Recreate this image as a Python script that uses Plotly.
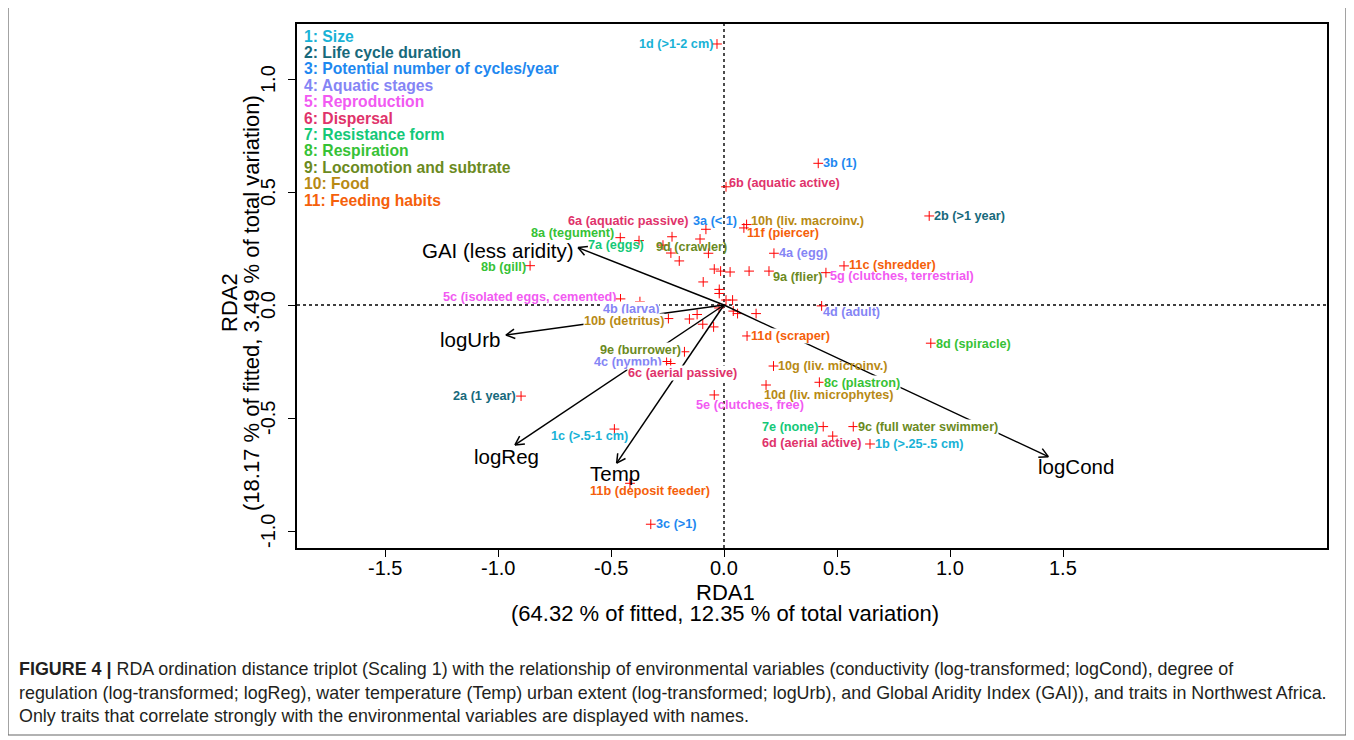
import plotly.graph_objects as go
import math

# ---------------- data ----------------
group_names = ["1: Size", "2: Life cycle duration", "3: Potential number of cycles/year",
               "4: Aquatic stages", "5: Reproduction", "6: Dispersal", "7: Resistance form",
               "8: Respiration", "9: Locomotion and subtrate", "10: Food", "11: Feeding habits"]

trait_labels = ["1d (>1-2 cm)", "3b (1)", "6b (aquatic active)", "2b (>1 year)", "10h (liv. macroinv.)",
                "11f (piercer)", "3a (< 1)", "6a (aquatic passive)", "8a (tegument)", "7a (eggs)",
                "9d (crawler)", "8b (gill)", "4a (egg)", "11c (shredder)", "9a (flier)",
                "5g (clutches, terrestrial)", "5c (isolated eggs, cemented)", "4b (larva)", "10b (detritus)",
                "4d (adult)", "11d (scraper)", "8d (spiracle)", "9e (burrower)", "4c (nymph)",
                "6c (aerial passive)", "10g (liv. microinv.)", "8c (plastron)", "10d (liv. microphytes)",
                "5e (clutches, free)", "2a (1 year)", "7e (none)", "9c (full water swimmer)",
                "6d (aerial active)", "1b (>.25-.5 cm)", "1c (>.5-1 cm)", "11b (deposit feeder)", "3c (>1)"]
trait_x = [-0.031, 0.417, 0.009, 0.908, 0.100, 0.088, -0.080, -0.106, -0.459, -0.376,
           -0.235, -0.858, 0.221, 0.531, 0.199, 0.451, -0.458, -0.372, -0.246,
           0.432, 0.102, 0.915, -0.175, -0.254, -0.236, 0.219, 0.422, 0.186,
           -0.043, -0.898, 0.439, 0.572, 0.481, 0.646, -0.485, -0.416, -0.324]
trait_y = [1.155, 0.627, 0.523, 0.394, 0.356, 0.341, 0.335, 0.292, 0.298, 0.285,
           0.230, 0.174, 0.229, 0.173, 0.150, 0.143, 0.027, 0.015, -0.060,
           -0.004, -0.137, -0.169, -0.207, -0.250, -0.259, -0.270, -0.342, -0.354,
           -0.398, -0.403, -0.538, -0.538, -0.580, -0.615, -0.549, -0.789, -0.970]
trait_group = [1, 3, 6, 2, 10, 11, 3, 6, 8, 7, 9, 8, 4, 11, 9, 5, 5, 4, 10,
               4, 11, 8, 9, 4, 6, 10, 8, 10, 5, 2, 7, 9, 6, 1, 1, 11, 3]

other_x = [-0.230, -0.270, -0.198, -0.069, -0.043, -0.015, 0.027, 0.111, -0.092, -0.021, -0.021,
           0.009, 0.038, -0.022, 0.041, 0.060, 0.142, -0.153, -0.119, -0.094, -0.046]
other_y = [0.302, 0.265, 0.195, 0.229, 0.159, 0.150, 0.146, 0.150, 0.102, 0.069, 0.051,
           0.022, 0.022, -0.013, -0.027, -0.038, -0.038, -0.062, -0.042, -0.085, -0.097]

env_names = ["GAI (less aridity)", "logUrb", "logReg", "Temp", "logCond"]
env_x = [-0.646, -0.965, -0.925, -0.475, 1.435]
env_y = [0.254, -0.133, -0.619, -0.700, -0.671]

x_ticks = [-1.5, -1.0, -0.5, 0.0, 0.5, 1.0, 1.5]
y_ticks = [-1.0, -0.5, 0.0, 0.5, 1.0]

x_title = ["RDA1", "(64.32 % of fitted, 12.35 % of total variation)"]
y_title = ["RDA2", "(18.17 % of fitted, 3.49 % of total variation)"]

caption_lines = [
    "<b>FIGURE 4 |</b> RDA ordination distance triplot (Scaling 1) with the relationship of environmental variables (conductivity (log-transformed; logCond), degree of",
    "regulation (log-transformed; logReg), water temperature (Temp) urban extent (log-transformed; logUrb), and Global Aridity Index (GAI)), and traits in Northwest Africa.",
    "Only traits that correlate strongly with the environmental variables are displayed with names.",
]

# ---------------- style / layout ----------------
group_colors = ["#19B2D6", "#17697B", "#1E88F0", "#8585F5", "#F25AF2", "#E0336B",
                "#14C878", "#36C236", "#6B8A1E", "#B88A14", "#F5600A"]

# label placement per trait: (anchor, xshift px, yshift px, white background)
trait_place = [("right", -3, 0, 0), ("left", 4, 0, 0), ("left", 2, 3.7, 0), ("left", 4, 0, 0),
               ("left", 3, 3.5, 0), ("left", 2, -5, 0), ("center", 9.5, 8.3, 0), ("right", -10, 18, 0),
               ("right", -5, 4.7, 0), ("right", 6, -4.3, 0), ("left", -16, 6, 0), ("right", -3, -1, 0),
               ("left", 4, 0, 0), ("left", 4, 1, 0), ("left", 3, -6, 0), ("left", 3, -3.3, 0),
               ("right", -3, 2, 0), ("right", 20, -7.3, 1), ("right", -3.3, -2.5, 1),
               ("left", 0, -6, 0), ("left", 3, 0, 1), ("left", 4, -0.7, 0), ("right", -2.5, 1.7, 1),
               ("right", -3.7, -0.5, 1), ("center", 11.8, -9.5, 1), ("left", 3.5, 0, 0),
               ("left", 3.7, -0.7, 1), ("left", -3, -10, 0), ("left", -19.3, -10, 0),
               ("right", -4, 0, 0), ("right", -4, 0, 0), ("left", 3.7, 0, 1), ("right", 29.3, -7, 0),
               ("left", 4, 0, 0), ("right", 14.7, -7, 0), ("center", 20.5, -7.7, 0), ("left", 4, 0, 0)]
env_place = [("right", -3, -2.5), ("right", -5, -4), ("center", -8, -12), ("center", -1.2, -10.7),
             ("center", 27.7, -10.3)]

# page geometry (the figure sits 8 px inside the page because of the body margin)
OFF = 8
W, H = 1354 - OFF, 740 - OFF
P_LEFT, P_RIGHT, P_TOP, P_BOTTOM = 297, 1327, 24, 548   # plot box in page pixels
PPU = 226.0                                            # pixels per data unit (equal aspect)
X0_PX, Y0_PX = 724.0, 305.0                            # page pixel of the origin
x_range = [(P_LEFT - X0_PX) / PPU, (P_RIGHT - X0_PX) / PPU]
y_range = [(Y0_PX - P_BOTTOM) / PPU, (Y0_PX - P_TOP) / PPU]
ML, MT = P_LEFT - OFF, P_TOP - OFF
MR, MB = W - (P_RIGHT - OFF), H - (P_BOTTOM - OFF)


def px_x(px):
    return (px - P_LEFT) / (P_RIGHT - P_LEFT)


def px_y(py):
    return (P_BOTTOM - py) / (P_BOTTOM - P_TOP)


FONT = "Liberation Sans, Arial, sans-serif"

fig = go.Figure()

# dotted zero lines
fig.add_shape(type="line", xref="x", yref="paper", x0=0, x1=0, y0=0, y1=1,
              line=dict(color="black", width=1.4, dash="dot"), layer="below")
fig.add_shape(type="line", xref="paper", yref="y", x0=0, x1=1, y0=0, y1=0,
              line=dict(color="black", width=1.4, dash="dot"), layer="below")

# environmental arrows
head_len = 10 / PPU
for ex, ey in zip(env_x, env_y):
    fig.add_shape(type="line", x0=0, y0=0, x1=ex, y1=ey, line=dict(color="black", width=1.5))
    ang = math.atan2(ey, ex)
    for s in (+1, -1):
        a = ang + math.pi + s * math.radians(28)
        fig.add_shape(type="line", x0=ex, y0=ey, x1=ex + head_len * math.cos(a),
                      y1=ey + head_len * math.sin(a), line=dict(color="black", width=1.5))

# trait points
fig.add_trace(go.Scatter(x=trait_x + other_x, y=trait_y + other_y, mode="markers",
                         marker=dict(symbol="cross-thin", size=7, color="red",
                                     line=dict(color="red", width=1)),
                         hoverinfo="skip", showlegend=False))

# trait labels
for lab, x, y, g, (anc, dx, dy, bg) in zip(trait_labels, trait_x, trait_y, trait_group, trait_place):
    fig.add_annotation(x=x, y=y, text=lab, showarrow=False, xanchor=anc, yanchor="middle",
                       xshift=dx, yshift=dy, borderpad=0,
                       bgcolor="white" if bg else "rgba(0,0,0,0)",
                       font=dict(family=FONT, size=12.7, color=group_colors[g - 1], weight="bold"))

# env labels
for name, x, y, (anc, dx, dy) in zip(env_names, env_x, env_y, env_place):
    fig.add_annotation(x=x, y=y, text=name, showarrow=False, xanchor=anc, yanchor="middle",
                       xshift=dx, yshift=dy, borderpad=0,
                       font=dict(family=FONT, size=20.5, color="black"))

# group legend (text block)
for i, (name, col) in enumerate(zip(group_names, group_colors)):
    fig.add_annotation(xref="paper", yref="paper", x=px_x(303), y=px_y(36 + 16.4 * i), text=name,
                       showarrow=False, xanchor="left", yanchor="middle", borderpad=0,
                       font=dict(family=FONT, size=15.7, color=col, weight="bold"))

# tick labels (placed like R's axis labels)
for v in x_ticks:
    fig.add_annotation(x=v, yref="paper", y=px_y(568), text=f"{v:.1f}", showarrow=False,
                       xanchor="center", yanchor="middle", borderpad=0,
                       font=dict(family=FONT, size=20, color="black"))
for v in y_ticks:
    fig.add_annotation(y=v, xref="paper", x=px_x(268), text=f"{v:.1f}", showarrow=False,
                       xanchor="center", yanchor="middle", textangle=-90, borderpad=0,
                       font=dict(family=FONT, size=20, color="black"))

# axis titles
for i, t in enumerate(x_title):
    fig.add_annotation(xref="paper", yref="paper", x=px_x(725), y=px_y(592 + 21 * i), text=t,
                       showarrow=False, xanchor="center", yanchor="middle",
                       font=dict(family=FONT, size=22, color="black"))
for i, t in enumerate(y_title):
    fig.add_annotation(xref="paper", yref="paper", x=px_x(229 + 22 * i), y=px_y(303), text=t,
                       showarrow=False, xanchor="center", yanchor="middle", textangle=-90,
                       font=dict(family=FONT, size=22, color="black"))

# caption
for i, t in enumerate(caption_lines):
    fig.add_annotation(xref="paper", yref="paper", x=px_x(17), y=px_y(669 + 23.5 * i), text=t,
                       showarrow=False, xanchor="left", yanchor="middle",
                       font=dict(family=FONT, size=17.9, color="#231F20"))

# outer frame of the figure panel
fig.add_shape(type="rect", xref="paper", yref="paper", x0=px_x(8), x1=px_x(1346),
              y0=px_y(735), y1=px_y(6), line=dict(color="#666666", width=1.2))

fig.update_xaxes(range=x_range, tickvals=x_ticks, showticklabels=False,
                 showgrid=False, zeroline=False, showline=True, mirror=True, linecolor="black",
                 linewidth=1.5, ticks="outside", ticklen=7, tickwidth=1.2, tickcolor="black")
fig.update_yaxes(range=y_range, tickvals=y_ticks, showticklabels=False,
                 showgrid=False, zeroline=False, showline=True, mirror=True, linecolor="black",
                 linewidth=1.5, ticks="outside", ticklen=7, tickwidth=1.2, tickcolor="black")

fig.update_layout(width=W, height=H, margin=dict(l=ML, r=MR, t=MT, b=MB),
                  plot_bgcolor="white", paper_bgcolor="white", showlegend=False)

fig.write_html("out.html")
